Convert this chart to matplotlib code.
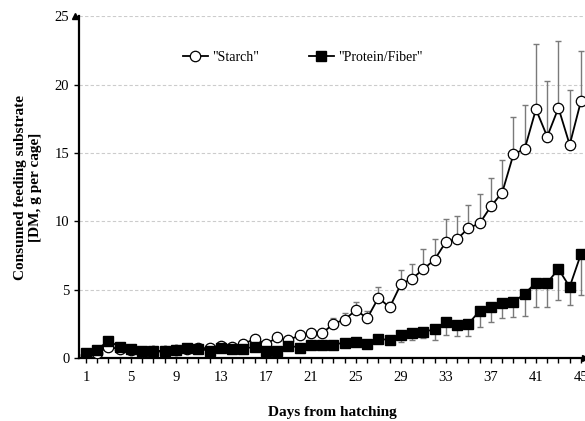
import numpy as np
import matplotlib
matplotlib.use("Agg")
import matplotlib.pyplot as plt

plt.rcParams['font.family'] = ['Liberation Serif', 'DejaVu Serif']

days = np.arange(1, 46)

starch = [0.2, 0.35, 0.8, 0.65, 0.55, 0.45, 0.48, 0.5, 0.55, 0.65,
          0.7, 0.7, 0.9, 0.8, 1.0, 1.4, 1.0, 1.5, 1.3, 1.65,
          1.8, 1.8, 2.5, 2.8, 3.5, 2.9, 4.4, 3.7, 5.4, 5.8,
          6.5, 7.2, 8.5, 8.7, 9.5, 9.85, 11.1, 12.1, 14.9, 15.3,
          18.2, 16.2, 18.3, 15.6, 18.8]
starch_err = [0.05, 0.05, 0.1, 0.1, 0.1, 0.1, 0.1, 0.1, 0.1, 0.1,
              0.1, 0.1, 0.1, 0.1, 0.15, 0.15, 0.15, 0.2, 0.2, 0.2,
              0.2, 0.25, 0.4, 0.5, 0.6, 0.5, 0.8, 0.4, 1.0, 1.1,
              1.5, 1.5, 1.7, 1.7, 1.7, 2.15, 2.1, 2.4, 2.7, 3.2,
              4.8, 4.1, 4.9, 4.0, 3.7]

protein = [0.37, 0.6, 1.25, 0.8, 0.65, 0.5, 0.5, 0.5, 0.6, 0.72,
           0.66, 0.52, 0.75, 0.65, 0.66, 0.83, 0.53, 0.53, 0.9, 0.75,
           0.97, 0.97, 0.97, 1.12, 1.14, 1.05, 1.4, 1.3, 1.68, 1.8,
           1.9, 2.1, 2.66, 2.4, 2.5, 3.44, 3.7, 4.0, 4.07, 4.7,
           5.5, 5.5, 6.5, 5.2, 7.6]
protein_err = [0.05, 0.05, 0.1, 0.1, 0.05, 0.05, 0.05, 0.05, 0.05, 0.05,
               0.05, 0.05, 0.05, 0.05, 0.05, 0.1, 0.05, 0.05, 0.1, 0.1,
               0.1, 0.1, 0.1, 0.15, 0.15, 0.15, 0.3, 0.3, 0.5, 0.5,
               0.46, 0.8, 1.0, 0.8, 0.9, 1.2, 1.1, 1.1, 1.1, 1.6,
               1.8, 1.8, 2.3, 1.3, 3.0]

tick_days = [1, 5, 9, 13, 17, 21, 25, 29, 33, 37, 41, 45]
y_ticks = [0, 5, 10, 15, 20, 25]

fig = plt.figure(figsize=(5.85, 4.21), dpi=100)
ax = fig.add_axes([0.135, 0.150, 0.865, 0.811])

zeros = np.zeros(len(days))
ax.errorbar(days, starch, yerr=[zeros, starch_err], fmt='none',
            ecolor='#7a7a7a', elinewidth=1.0, capsize=2.5, zorder=2)
ax.errorbar(days, protein, yerr=[protein_err, zeros], fmt='none',
            ecolor='#7a7a7a', elinewidth=1.0, capsize=2.5, zorder=2)
ax.plot(days, starch, '-o', color='black', mfc='white', mec='black',
        ms=7.5, mew=0.9, lw=1.3, label='"Starch"', zorder=3)
ax.plot(days, protein, '-s', color='black', mfc='black', mec='black',
        ms=6.5, lw=1.3, label='"Protein/Fiber"', zorder=4)

ax.set_xlim(0.38, 45.36)
ax.set_ylim(0, 25)
ax.set_xticks(tick_days)
ax.set_xticks(days, minor=True)
ax.set_yticks(y_ticks)
ax.tick_params(axis='both', labelsize=10.5, direction='out', length=3.5, width=1)
ax.tick_params(axis='x', which='minor', length=3.5, width=1)
ax.tick_params(axis='x', pad=6)
ax.yaxis.grid(True, linestyle=(0, (3, 2)), color='#cccccc', lw=0.8)
ax.set_axisbelow(True)

for side in ['top', 'right']:
    ax.spines[side].set_visible(False)
ax.spines['left'].set_linewidth(1.6)
ax.spines['bottom'].set_linewidth(1.6)

# axis arrows
ax.plot(1, 0, '>k', ms=5, transform=ax.get_yaxis_transform(), clip_on=False)
ax.plot(0, 1, '^k', ms=5, transform=ax.get_xaxis_transform(), clip_on=False)

ax.set_xlabel('Days from hatching', fontsize=11, fontweight='bold', labelpad=16)
ax.set_ylabel('Consumed feeding substrate\n[DM, g per cage]', fontsize=11,
              fontweight='bold', labelpad=9)

ax.legend(loc='upper left', bbox_to_anchor=(0.18, 0.935), ncol=2, frameon=False,
          fontsize=10, handlelength=1.8, columnspacing=3.6, handletextpad=0.3)

fig.savefig('out.png', dpi=100)
